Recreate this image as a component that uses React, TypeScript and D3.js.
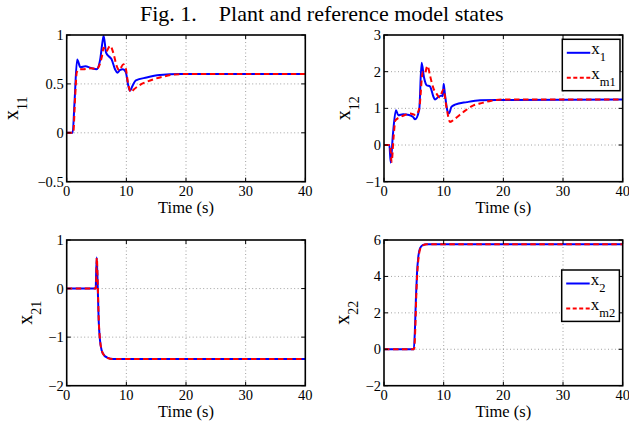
import { useEffect, useRef } from "react";
import * as d3 from "d3";

// Time knots (s) and state values.
// x11: plant (blue) and reference model (red dashed)
const t11Plant = [0, 1.0, 1.3, 1.75, 2.3, 3.1, 4.2, 5.0, 5.6, 6.0, 6.2, 6.6, 7.1, 7.5, 8.1, 8.5, 8.9, 9.4, 9.9, 10.3, 10.6, 11.1, 11.6, 13.4, 15.6, 19, 40];
const x11Plant = [0, 0, 0.3, 0.75, 0.67, 0.68, 0.66, 0.65, 0.745, 0.93, 0.99, 0.82, 0.78, 0.755, 0.65, 0.615, 0.64, 0.65, 0.62, 0.49, 0.43, 0.49, 0.535, 0.565, 0.59, 0.6, 0.6];
const t11Ref = [0, 1.1, 1.4, 1.7, 2.2, 2.8, 4.2, 5.0, 5.9, 6.2, 6.6, 7.3, 7.8, 8.4, 8.8, 9.5, 9.9, 10.3, 10.8, 11.2, 12.3, 14, 16.2, 19, 40];
const x11Ref = [0, 0, 0.35, 0.62, 0.65, 0.65, 0.66, 0.65, 0.78, 0.87, 0.83, 0.89, 0.82, 0.68, 0.64, 0.7, 0.66, 0.5, 0.415, 0.44, 0.49, 0.535, 0.575, 0.6, 0.6];

// x12
const t12Plant = [0, 0.9, 1.12, 1.5, 2.0, 2.4, 3.2, 4.2, 4.9, 5.2, 5.9, 6.3, 6.7, 7.15, 7.7, 8.3, 8.55, 9.1, 9.7, 9.85, 10.0, 10.2, 10.6, 10.9, 11.3, 11.9, 13.9, 16.1, 18.9, 40];
const x12Plant = [0, 0, -0.48, 0.3, 0.95, 0.81, 0.84, 0.82, 0.76, 0.7, 0.96, 2.24, 1.85, 1.63, 1.6, 1.31, 1.24, 1.31, 1.35, 1.33, 1.67, 1.4, 0.95, 0.86, 1.04, 1.1, 1.17, 1.22, 1.23, 1.24];
const t12Ref = [0, 1.0, 1.28, 1.6, 1.9, 2.7, 3.5, 4.4, 5.3, 5.9, 6.5, 6.8, 7.3, 7.7, 8.3, 8.8, 9.3, 9.95, 10.5, 11.06, 11.9, 13.3, 15, 16.5, 18, 20, 40];
const x12Ref = [0, 0, -0.46, 0.2, 0.67, 0.76, 0.82, 0.86, 0.82, 0.99, 1.99, 1.95, 2.16, 1.9, 1.54, 1.4, 1.3, 1.51, 1.0, 0.63, 0.72, 0.9, 1.08, 1.15, 1.21, 1.24, 1.24];

// x21
const t21Plant = [0, 4.85, 5.03, 5.2, 5.36, 5.58, 5.86, 6.25, 6.8, 7.8, 40];
const x21Plant = [0, 0, 0.64, 0.04, -0.65, -1.06, -1.27, -1.37, -1.42, -1.45, -1.45];
const t21Ref = [0, 4.9, 5.05, 5.22, 5.38, 5.6, 5.9, 6.3, 6.85, 7.8, 40];
const x21Ref = [0, 0, 0.63, 0.02, -0.66, -1.07, -1.28, -1.38, -1.43, -1.45, -1.45];

// x22
const t22Plant = [0, 5.0, 5.2, 5.36, 5.53, 5.75, 6.03, 6.48, 7.15, 40];
const x22Plant = [0, 0, 1.24, 2.9, 4.17, 5.08, 5.54, 5.72, 5.77, 5.77];
const t22Ref = [0, 5.05, 5.25, 5.4, 5.57, 5.8, 6.08, 6.5, 7.2, 40];
const x22Ref = [0, 0, 1.2, 2.85, 4.12, 5.05, 5.52, 5.71, 5.77, 5.77];

const timeTicks = [0, 10, 20, 30, 40];
const yTicks11 = [-0.5, 0, 0.5, 1];
const yTicks12 = [-1, 0, 1, 2, 3];
const yTicks21 = [-2, -1, 0, 1];
const yTicks22 = [-2, 0, 2, 4, 6];

const FONT = "'Liberation Serif', 'Times New Roman', serif";
const BLUE = "#0000ff";
const RED = "#ff0000";

type Panel = {
  left: number; right: number; top: number; bottom: number;
  tp: number[]; vp: number[]; tr: number[]; vr: number[];
  yTicks: number[]; sub: string; labelOffset: number;
  legend?: { sub1: string; sub2: string; dx: number; dy: number };
};

const panels: Panel[] = [
  { left: 66.7, right: 305.3, top: 35, bottom: 181.7, tp: t11Plant, vp: x11Plant, tr: t11Ref, vr: x11Ref, yTicks: yTicks11, sub: "11", labelOffset: 48.5 },
  { left: 384, right: 622.7, top: 35, bottom: 181.7, tp: t12Plant, vp: x12Plant, tr: t12Ref, vr: x12Ref, yTicks: yTicks12, sub: "12", labelOffset: 34,
    legend: { sub1: "1", sub2: "m1", dx: 60.4, dy: 4.3 } },
  { left: 66.7, right: 305.3, top: 240, bottom: 385.7, tp: t21Plant, vp: x21Plant, tr: t21Ref, vr: x21Ref, yTicks: yTicks21, sub: "21", labelOffset: 34.4 },
  { left: 384, right: 622.7, top: 240, bottom: 385.7, tp: t22Plant, vp: x22Plant, tr: t22Ref, vr: x22Ref, yTicks: yTicks22, sub: "22", labelOffset: 34.7,
    legend: { sub1: "2", sub2: "m2", dx: 61, dy: 30 } },
];

const fmt = (d: number) => String(d).replace("-", "\u2212");

function drawPanel(svg: d3.Selection<SVGSVGElement, unknown, null, undefined>, p: Panel, i: number) {
  const x = d3.scaleLinear().domain([0, 40]).range([p.left, p.right]);
  const yExt = d3.extent(p.yTicks) as [number, number];
  const y = d3.scaleLinear().domain(yExt).range([p.bottom, p.top]);
  const g = svg.append("g");

  g.append("rect")
    .attr("x", p.left).attr("y", p.top)
    .attr("width", p.right - p.left).attr("height", p.bottom - p.top)
    .attr("fill", "#fff");

  // dotted grid
  g.selectAll(".gx").data(timeTicks.slice(1, -1)).enter().append("line")
    .attr("x1", (d) => x(d)).attr("x2", (d) => x(d))
    .attr("y1", p.top).attr("y2", p.bottom)
    .attr("stroke", "#8a8a8a").attr("stroke-width", 0.8).attr("stroke-dasharray", "1,2.5");
  g.selectAll(".gy").data(p.yTicks.slice(1, -1)).enter().append("line")
    .attr("x1", p.left).attr("x2", p.right)
    .attr("y1", (d) => y(d)).attr("y2", (d) => y(d))
    .attr("stroke", "#8a8a8a").attr("stroke-width", 0.8).attr("stroke-dasharray", "1,2.5");

  const clipId = `clip${i}`;
  svg.append("clipPath").attr("id", clipId).append("rect")
    .attr("x", p.left).attr("y", p.top)
    .attr("width", p.right - p.left).attr("height", p.bottom - p.top);

  const line = d3.line<[number, number]>()
    .x((d) => x(d[0])).y((d) => y(d[1]))
    .curve(d3.curveMonotoneX);

  g.append("path")
    .attr("d", line(p.tp.map((t, k) => [t, p.vp[k]]) as [number, number][]))
    .attr("fill", "none").attr("stroke", BLUE).attr("stroke-width", 2)
    .attr("clip-path", `url(#${clipId})`);
  g.append("path")
    .attr("d", line(p.tr.map((t, k) => [t, p.vr[k]]) as [number, number][]))
    .attr("fill", "none").attr("stroke", RED).attr("stroke-width", 2)
    .attr("stroke-dasharray", "5.5,3.5")
    .attr("clip-path", `url(#${clipId})`);

  // inward ticks on all sides
  const tl = 4;
  timeTicks.forEach((d) => {
    g.append("line").attr("x1", x(d)).attr("x2", x(d)).attr("y1", p.bottom).attr("y2", p.bottom - tl).attr("stroke", "#000");
    g.append("line").attr("x1", x(d)).attr("x2", x(d)).attr("y1", p.top).attr("y2", p.top + tl).attr("stroke", "#000");
  });
  p.yTicks.forEach((d) => {
    g.append("line").attr("x1", p.left).attr("x2", p.left + tl).attr("y1", y(d)).attr("y2", y(d)).attr("stroke", "#000");
    g.append("line").attr("x1", p.right).attr("x2", p.right - tl).attr("y1", y(d)).attr("y2", y(d)).attr("stroke", "#000");
  });

  // box
  g.append("rect")
    .attr("x", p.left).attr("y", p.top)
    .attr("width", p.right - p.left).attr("height", p.bottom - p.top)
    .attr("fill", "none").attr("stroke", "#000").attr("stroke-width", 1.6);

  // tick labels
  g.selectAll(".xl").data(timeTicks).enter().append("text")
    .attr("x", (d) => x(d)).attr("y", p.bottom + 14.5)
    .attr("text-anchor", "middle").attr("font-size", 14.5).attr("font-family", FONT)
    .text((d) => String(d));
  g.selectAll(".yl").data(p.yTicks).enter().append("text")
    .attr("x", p.left - 3).attr("y", (d) => y(d) + 5)
    .attr("text-anchor", "end").attr("font-size", 14.5).attr("font-family", FONT)
    .text((d) => fmt(d));

  g.append("text")
    .attr("x", (p.left + p.right) / 2).attr("y", p.bottom + 31.5)
    .attr("text-anchor", "middle").attr("font-size", 16.5).attr("font-family", FONT)
    .text("Time (s)");

  // y label x_ij
  const yl = g.append("text")
    .attr("transform", `translate(${p.left - p.labelOffset},${(p.top + p.bottom) / 2}) rotate(-90)`)
    .attr("text-anchor", "middle").attr("font-family", FONT);
  yl.append("tspan").attr("font-size", 20).text("x");
  yl.append("tspan").attr("font-size", 14).attr("dy", 9).text(p.sub);

  if (p.legend) {
    const L = p.legend;
    const bx = p.right - L.dx;
    const by = p.top + L.dy;
    const lg = g.append("g");
    lg.append("rect").attr("x", bx).attr("y", by).attr("width", 57.7).attr("height", 51.4)
      .attr("fill", "#fff").attr("stroke", "#000").attr("stroke-width", 1.5);
    const rows = [
      { c: BLUE, dash: null as string | null, sub: L.sub1, ly: by + 13.5 },
      { c: RED, dash: "4,2.5", sub: L.sub2, ly: by + 38.5 },
    ];
    rows.forEach((r) => {
      lg.append("line").attr("x1", bx + 4.5).attr("x2", bx + 28).attr("y1", r.ly).attr("y2", r.ly)
        .attr("stroke", r.c).attr("stroke-width", 2).attr("stroke-dasharray", r.dash);
      const t = lg.append("text").attr("x", bx + 29).attr("y", r.ly + 1).attr("font-family", FONT);
      t.append("tspan").attr("font-size", 17).text("x");
      t.append("tspan").attr("font-size", 12.5).attr("dy", 7).text(r.sub);
    });
  }
}

export default function App() {
  const svgRef = useRef<SVGSVGElement>(null);

  useEffect(() => {
    if (!svgRef.current) return;
    const svg = d3.select(svgRef.current);
    svg.selectAll("*").remove();

    const title = svg.append("text")
      .attr("x", 140).attr("y", 20.5)
      .attr("font-size", 22).attr("font-family", FONT);
    title.append("tspan").text("Fig. 1.");
    title.append("tspan").attr("dx", 22).text("Plant and reference model states");

    panels.forEach((p, i) => drawPanel(svg, p, i));
  }, []);

  return (
    <svg
      ref={svgRef}
      width={629}
      height={423}
      style={{ position: "absolute", left: 0, top: 0, background: "#fff" }}
    />
  );
}
